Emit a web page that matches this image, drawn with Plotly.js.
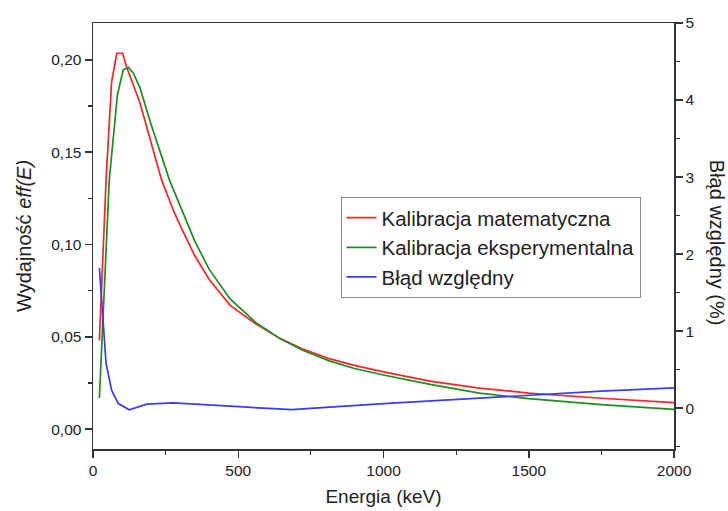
<!DOCTYPE html>
<html>
<head>
<meta charset="utf-8">
<script src="https://cdn.plot.ly/plotly-3.0.1.min.js"></script>
<style>html,body{margin:0;padding:0;background:#fff;}#chart{width:728px;height:511px;}</style>
</head>
<body>
<div id="chart"></div>
<script>
// Kalibracja matematyczna (left axis, efficiency)
const redE = [22, 45, 64, 82, 102, 114, 162, 200, 236, 276, 299, 350, 400, 472, 560, 644, 720, 816, 900, 1000, 1160, 1330, 1500, 1750, 2000];
const redV = [0.048, 0.135, 0.188, 0.2036, 0.2036, 0.197, 0.1765, 0.155, 0.135, 0.1187, 0.1106, 0.094, 0.081, 0.067, 0.057, 0.049, 0.0435, 0.038, 0.0345, 0.031, 0.026, 0.0222, 0.0195, 0.0167, 0.0143];
// Kalibracja eksperymentalna (left axis, efficiency)
const greenE = [22, 56, 84, 104, 122, 139, 162, 200, 263, 305, 350, 400, 472, 560, 644, 720, 816, 900, 1000, 1160, 1330, 1500, 1750, 2000];
const greenV = [0.0168, 0.135, 0.181, 0.1946, 0.196, 0.1928, 0.1847, 0.165, 0.135, 0.1187, 0.102, 0.0865, 0.0705, 0.0578, 0.049, 0.0428, 0.0368, 0.0328, 0.0293, 0.0242, 0.0195, 0.0165, 0.0132, 0.0107];
// Błąd względny (right axis, %)
const blueE = [22, 45, 64, 87, 125, 185, 276, 414, 550, 684, 1000, 1160, 1330, 1500, 1750, 2000];
const blueV = [1.82, 0.58, 0.234, 0.06, -0.02, 0.052, 0.069, 0.039, 0.012, -0.02, 0.06, 0.095, 0.126, 0.17, 0.22, 0.264];

const xTicks = [0, 500, 1000, 1500, 2000];
const names = ['Kalibracja matematyczna', 'Kalibracja eksperymentalna', 'Błąd względny'];

const FONT = 'Arial, "Liberation Sans", sans-serif';
const AX = '#333333';
const TXT = '#222222';

const traces = [
  {x: redE, y: redV, name: names[0], mode: 'lines', line: {color: '#ff2424', width: 1.7}, yaxis: 'y'},
  {x: greenE, y: greenV, name: names[1], mode: 'lines', line: {color: '#1e8c1e', width: 1.7}, yaxis: 'y'},
  {x: blueE, y: blueV, name: names[2], mode: 'lines', line: {color: '#3a3aff', width: 1.7}, yaxis: 'y2'}
];

const layout = {
  width: 728, height: 511,
  margin: {l: 93, r: 54, t: 23, b: 62},
  paper_bgcolor: '#ffffff', plot_bgcolor: '#ffffff',
  separators: ', ',
  font: {family: FONT, size: 15.5, color: TXT},
  showlegend: true,
  legend: {
    x: 0.426, y: 0.592, xanchor: 'left', yanchor: 'top',
    bgcolor: '#ffffff', bordercolor: '#8a8a8a', borderwidth: 1,
    font: {family: FONT, size: 20.5, color: TXT},
    tracegroupgap: 0
  },
  xaxis: {
    range: [0, 2000], tickvals: xTicks, ticktext: xTicks.map(String),
    ticks: 'outside', ticklen: 7, tickwidth: 1.5, tickcolor: AX,
    showline: true, linewidth: 1.5, linecolor: AX, mirror: true,
    showgrid: false, zeroline: false,
    minor: {dtick: 250, tick0: 0, ticks: 'outside', ticklen: 4, tickwidth: 1.2, tickcolor: AX, showgrid: false},
    tickfont: {family: FONT, size: 15.5, color: TXT},
    title: {text: 'Energia (keV)', font: {family: FONT, size: 19, color: TXT}, standoff: 11}
  },
  yaxis: {
    range: [-0.0108, 0.22], tick0: 0, dtick: 0.05, tickformat: '.2f',
    ticks: 'outside', ticklen: 7, tickwidth: 1.5, tickcolor: AX,
    showline: true, linewidth: 1.5, linecolor: AX,
    showgrid: false, zeroline: false,
    minor: {dtick: 0.025, tick0: 0, ticks: 'outside', ticklen: 4, tickwidth: 1.2, tickcolor: AX, showgrid: false},
    tickfont: {family: FONT, size: 15.5, color: TXT},
    title: {text: 'Wydajność <i>eff(E)</i>', font: {family: FONT, size: 20, color: TXT}, standoff: 14}
  },
  yaxis2: {
    overlaying: 'y', side: 'right',
    range: [-0.53, 5], tick0: 0, dtick: 1,
    ticks: 'outside', ticklen: 7, tickwidth: 1.5, tickcolor: AX,
    showline: true, linewidth: 1.5, linecolor: AX,
    showgrid: false, zeroline: false,
    minor: {dtick: 0.5, tick0: 0, ticks: 'outside', ticklen: 4, tickwidth: 1.2, tickcolor: AX, showgrid: false},
    tickfont: {family: FONT, size: 15.5, color: TXT}
  },
  annotations: [{
    text: 'Błąd względny (%)', xref: 'paper', yref: 'paper',
    x: 1.074, y: 0.484, xanchor: 'center', yanchor: 'middle',
    textangle: 90, showarrow: false,
    font: {family: FONT, size: 20, color: TXT}
  }]
};

Plotly.newPlot('chart', traces, layout, {displayModeBar: false, staticPlot: true});
</script>
</body>
</html>
